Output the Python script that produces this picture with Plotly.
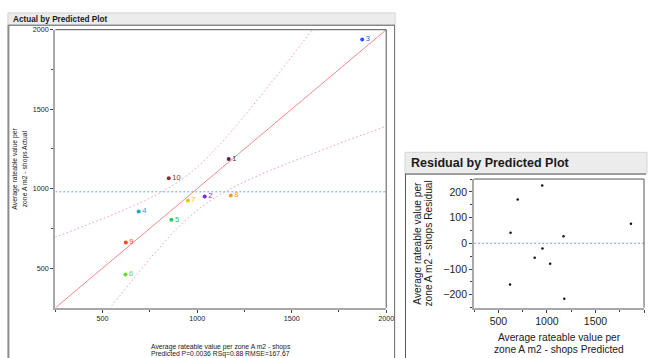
import numpy as np
import plotly.graph_objects as go

# Observation data (row labels, predicted and actual values)
row_labels = ["1", "2", "3", "4", "5", "6", "7", "8", "9", "10"]
predicted = [1167, 1040, 1873, 691, 864, 621, 951, 1178, 623, 850]
actual = [1186, 950, 1938, 857, 804, 460, 925, 957, 661, 1065]
row_colors = ["#5c1f5c", "#7a28d8", "#2458ff", "#1ba7c7", "#22cc66",
              "#66dd22", "#e6c600", "#f59a22", "#f54a1a", "#9e2233"]

# Residual plot points
resid_pred = [1171, 1033, 1865, 699, 874, 620, 954, 1179, 625, 951]
residuals = [27, -80, 76, 170, -56, -160, -20, -216, 41, 225]

# Confidence curve shape for the actual-by-predicted plot
band_min_halfwidth = 135.0
band_slope = 0.58

x_ticks = [500, 1000, 1500, 2000]
y_ticks_left = [500, 1000, 1500, 2000]
y_ticks_right = [-200, -100, 0, 100, 200]

W, H = 654, 358
FONT = "Liberation Sans, Arial, sans-serif"


def fx(px):
    return px / W


def fy(py):
    return 1 - py / H


fig = go.Figure()

mean_actual = float(np.mean(actual))
xs = np.linspace(250, 2000, 400)
half = np.sqrt(band_min_halfwidth ** 2 + (band_slope * (xs - mean_actual)) ** 2)

# Mean line
fig.add_trace(go.Scatter(x=[250, 2000], y=[mean_actual, mean_actual], mode="lines",
                         line=dict(color="#6f9bff", width=1, dash="2px,2px"),
                         hoverinfo="skip", xaxis="x", yaxis="y"))
# Fit line and confidence curves
fig.add_trace(go.Scatter(x=[250, 2000], y=[250, 2000], mode="lines",
                         line=dict(color="#f28a8a", width=1),
                         hoverinfo="skip", xaxis="x", yaxis="y"))
for sign in (1, -1):
    fig.add_trace(go.Scatter(x=xs, y=xs + sign * half, mode="lines",
                             line=dict(color="#f29aae", width=1, dash="1.5px,2.5px"),
                             hoverinfo="skip", xaxis="x", yaxis="y"))

# Labelled points
fig.add_trace(go.Scatter(x=predicted, y=actual, mode="markers+text",
                         text=row_labels, textposition="middle right",
                         textfont=dict(family=FONT, size=7.5, color=row_colors),
                         marker=dict(color=row_colors, size=4),
                         xaxis="x", yaxis="y"))

# Residual plot
fig.add_trace(go.Scatter(x=[250, 2000], y=[0, 0], mode="lines",
                         line=dict(color="#6f9bff", width=1, dash="2px,2px"),
                         hoverinfo="skip", xaxis="x2", yaxis="y2"))
fig.add_trace(go.Scatter(x=resid_pred, y=residuals, mode="markers",
                         marker=dict(color="#111111", size=2.5),
                         xaxis="x2", yaxis="y2"))

axis_common = dict(showgrid=False, zeroline=False, showline=True,
                   linecolor="#a8a8a8", linewidth=2, ticks="outside",
                   tickcolor="#444444", ticklen=3, tickwidth=1,
                   tickmode="array")

left_dom_x = [fx(56), fx(391)]
left_dom_y = [fy(307), fy(26)]
right_dom_x = [fx(480), fx(652)]
right_dom_y = [fy(307), fy(177)]

fig.update_layout(
    width=W, height=H, margin=dict(l=0, r=0, t=0, b=0),
    paper_bgcolor="white", plot_bgcolor="white", showlegend=False,
    font=dict(family=FONT, color="#222222"),
    xaxis=dict(domain=left_dom_x, range=[250, 2000], anchor="y",
               tickvals=x_ticks, tickfont=dict(size=7.2),
               minor=dict(dtick=250, tick0=0, ticklen=2, ticks="outside", tickcolor="#444444"),
               **axis_common),
    yaxis=dict(domain=left_dom_y, range=[252, 2000], anchor="x",
               tickvals=y_ticks_left, tickfont=dict(size=7.2),
               minor=dict(dtick=250, tick0=0, ticklen=2, ticks="outside", tickcolor="#444444"),
               **axis_common),
    xaxis2=dict(domain=right_dom_x, range=[250, 2000], anchor="y2",
                tickvals=x_ticks, tickfont=dict(size=10.5),
                minor=dict(dtick=250, tick0=0, ticklen=2, ticks="outside", tickcolor="#444444"),
                **axis_common),
    yaxis2=dict(domain=right_dom_y, range=[-250, 250], anchor="x2",
                tickvals=y_ticks_right, tickfont=dict(size=10.5),
                minor=dict(dtick=50, tick0=0, ticklen=2, ticks="outside", tickcolor="#444444"),
                **axis_common),
)

shapes = []
# Plot frames (top and right edges)
for xr, yr in (("x domain", "y domain"), ("x2 domain", "y2 domain")):
    shapes.append(dict(type="line", xref=xr, yref=yr, x0=0, x1=1, y0=1, y1=1,
                       line=dict(color="#555555", width=1)))
    shapes.append(dict(type="line", xref=xr, yref=yr, x0=1, x1=1, y0=0, y1=1,
                       line=dict(color="#555555", width=1)))

# Report panel headers and outlines
shapes += [
    dict(type="rect", xref="paper", yref="paper", x0=fx(8), x1=fx(400), y0=fy(21), y1=fy(9),
         fillcolor="#ececec", line=dict(color="#d4d4d4", width=1), layer="below"),
    dict(type="line", xref="paper", yref="paper", x0=fx(8), x1=fx(400), y0=fy(21.5), y1=fy(21.5),
         line=dict(color="#666666", width=1)),
    dict(type="line", xref="paper", yref="paper", x0=fx(8.5), x1=fx(8.5), y0=fy(21.5), y1=0,
         line=dict(color="#8c8c8c", width=2)),
    dict(type="line", xref="paper", yref="paper", x0=fx(399.5), x1=fx(399.5), y0=fy(21.5), y1=0,
         line=dict(color="#666666", width=1)),
    dict(type="rect", xref="paper", yref="paper", x0=fx(410), x1=fx(655), y0=fy(171.5), y1=fy(150),
         fillcolor="#ececec", line=dict(color="#d4d4d4", width=1), layer="below"),
    dict(type="line", xref="paper", yref="paper", x0=fx(410), x1=1, y0=fy(172), y1=fy(172),
         line=dict(color="#555555", width=1)),
    dict(type="line", xref="paper", yref="paper", x0=fx(410.5), x1=fx(410.5), y0=fy(172), y1=0,
         line=dict(color="#555555", width=1)),
]
fig.update_layout(shapes=shapes)


def note(text, x, y, size, bold=False, angle=0, xanchor="center"):
    return dict(text=f"<b>{text}</b>" if bold else text, xref="paper", yref="paper",
                x=fx(x), y=fy(y), xanchor=xanchor, yanchor="middle", showarrow=False,
                textangle=angle, font=dict(family=FONT, size=size, color="#1a1a1a"))


annotations = [
    note("Actual by Predicted Plot", 11, 15.3, 8.2, bold=True, xanchor="left"),
    note("Residual by Predicted Plot", 414, 161, 12.5, bold=True, xanchor="left"),
    note("Average rateable value per zone A m2 - shops", 223.5, 346.5, 6.8),
    note("Predicted P=0.0036 RSq=0.88 RMSE=167.67", 223.5, 354.3, 6.8),
    note("Average rateable value per", 15.7, 167, 6.8, angle=-90),
    note("zone A m2 - shops Actual", 25.5, 167, 6.8, angle=-90),
    note("Average rateable value per", 566, 337.7, 10.2),
    note("zone A m2 - shops Predicted", 566, 349.5, 10.2),
    note("Average rateable value per", 422.5, 242, 10.2, angle=-90),
    note("zone A m2 - shops Residual", 433.5, 242, 10.2, angle=-90),
]
fig.update_layout(annotations=annotations)

fig.write_html("out.html")
